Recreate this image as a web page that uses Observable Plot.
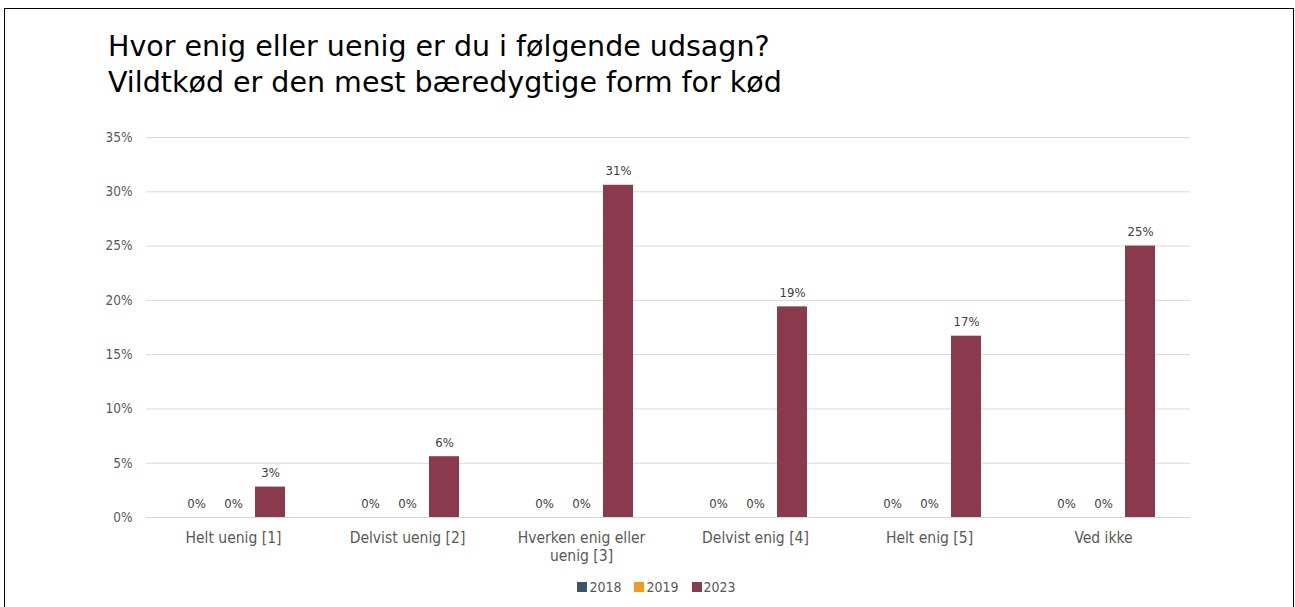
<!DOCTYPE html>
<html><head><meta charset="utf-8">
<script src="https://cdn.jsdelivr.net/npm/d3@7"></script>
<script src="https://cdn.jsdelivr.net/npm/@observablehq/plot@0.6"></script>
<style>
body{margin:0;background:#fff;width:1295px;height:607px;overflow:hidden;position:relative;font-family:"DejaVu Sans Condensed","DejaVu Sans",sans-serif;}
#frame{position:absolute;left:4px;top:8px;width:1290px;height:650px;border:1.5px solid #000;box-sizing:border-box;}
#title{position:absolute;left:108px;top:29px;font-family:"DejaVu Sans",sans-serif;font-size:28.5px;line-height:35.5px;color:#000;white-space:nowrap;}
#chart{position:absolute;left:0;top:0;}
#legend{position:absolute;top:577px;left:9px;width:1295px;display:flex;justify-content:center;gap:13px;font-size:14px;line-height:20px;color:#595959;}
#legend span{display:flex;align-items:center;gap:2px;}
#legend i{display:inline-block;width:10px;height:10px;}
</style></head>
<body>
<div id="frame"></div>
<div id="title">Hvor enig eller uenig er du i følgende udsagn?<br>Vildtkød er den mest bæredygtige form for kød</div>
<div id="chart"></div>
<div id="legend"></div>
<script>
const categories = ["Helt uenig [1]", "Delvist uenig [2]", "Hverken enig eller uenig [3]", "Delvist enig [4]", "Helt enig [5]", "Ved ikke"];
const categoryLabels = ["Helt uenig [1]", "Delvist uenig [2]", "Hverken enig eller\nuenig [3]", "Delvist enig [4]", "Helt enig [5]", "Ved ikke"];
const years = ["2018", "2019", "2023"];
const values2018 = [0, 0, 0, 0, 0, 0];
const values2019 = [0, 0, 0, 0, 0, 0];
const values2023 = [0.028, 0.056, 0.306, 0.194, 0.167, 0.25];
const colors = ["#3D5566", "#F39A1E", "#8B3A4E"];
const yTicks = [0, 0.05, 0.10, 0.15, 0.20, 0.25, 0.30, 0.35];

const series = [values2018, values2019, values2023];
const data = [];
categories.forEach((c, i) => years.forEach((y, j) => data.push({category: c, year: y, value: series[j][i]})));
const pct = d => Math.round(d * 100) + "%";

const chart = Plot.plot({
  width: 1295, height: 570,
  marginLeft: 146, marginRight: 105, marginTop: 137, marginBottom: 53,
  style: {fontFamily: "'DejaVu Sans Condensed', 'DejaVu Sans', sans-serif", background: "transparent"},
  fx: {domain: categories, padding: 0, label: null},
  x: {domain: years, paddingInner: 0.184, paddingOuter: 0.8816, axis: null},
  y: {domain: [0, 0.35], label: null},
  color: {domain: years, range: colors},
  marks: [
    Plot.gridY(yTicks, {stroke: "#d9d9d9", strokeOpacity: 1, strokeWidth: 1}),
    Plot.axisY(yTicks, {tickSize: 0, tickPadding: 14, tickFormat: pct, fontSize: 13.5, fill: "#595959", label: null}),
    Plot.axisFx({anchor: "bottom", tickSize: 0, tickPadding: 13, fontSize: 15.5, fill: "#595959", label: null, lineHeight: 1.16,
      tickFormat: d => categoryLabels[categories.indexOf(d)]}),
    Plot.barY(data, {fx: "category", x: "year", y: "value", fill: "year"}),
    Plot.text(data, {fx: "category", x: "year", y: "value", text: d => pct(d.value), dy: -14, fontSize: 13, fill: "#404040"})
  ]
});
document.getElementById("chart").appendChild(chart);

const legend = document.getElementById("legend");
years.forEach((y, i) => {
  const s = document.createElement("span");
  s.innerHTML = `<i style="background:${colors[i]}"></i>${y}`;
  legend.appendChild(s);
});
</script>
</body></html>
